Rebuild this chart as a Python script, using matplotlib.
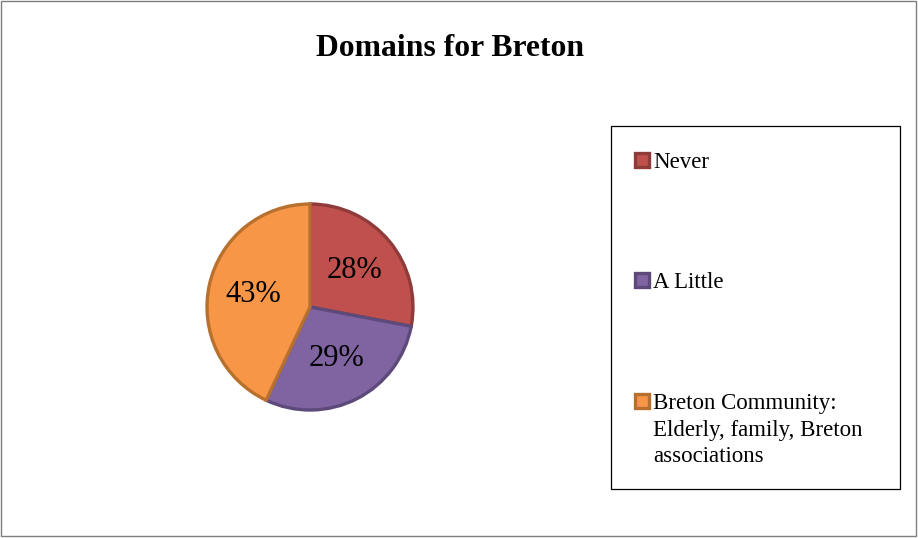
import matplotlib
matplotlib.use("Agg")
import matplotlib.pyplot as plt
from matplotlib.patches import Rectangle

labels = ["Never", "A Little", "Breton Community:\nElderly, family, Breton\nassociations"]
shares = [28, 29, 43]
fills = ["#C0504D", "#8064A2", "#F79646"]
edges = ["#8E3B39", "#5D4A7A", "#B8702F"]
title = "Domains for Breton"

W, H = 918, 538
plt.rcParams["font.family"] = ["Liberation Serif", "DejaVu Serif"]

fig = plt.figure(figsize=(W / 100, H / 100), dpi=100)


def fx(x):
    return x / W


def fy(y):
    # pixel rows are counted from the top
    return 1 - y / H


# outer chart border
fig.add_artist(Rectangle((fx(1), fy(536)), fx(915), 535 / H, transform=fig.transFigure,
                         fill=False, edgecolor="#7f7f7f", lw=1))

fig.text(fx(450), fy(48), title, ha="center", va="center", fontsize=22.8, fontweight="bold")

# pie
cx, cy, r = 310, 307, 103
ax = fig.add_axes([fx(cx - r), fy(cy + r), 2 * r / W, 2 * r / H])
wedges, texts, autotexts = ax.pie(
    shares, colors=fills, startangle=90, counterclock=False,
    autopct="%d%%", pctdistance=0.56,
    wedgeprops=dict(linewidth=2.4),
    textprops=dict(fontsize=22, color="black"),
)
for w, ec in zip(wedges, edges):
    w.set_edgecolor(ec)
    w.set_joinstyle("miter")
ax.set_xlim(-1, 1)
ax.set_ylim(-1, 1)
ax.set_aspect("equal")
ax.axis("off")

# legend box
lx0, ly0, lx1, ly1 = 611, 126, 900, 489
fig.add_artist(Rectangle((fx(lx0), fy(ly1)), fx(lx1 - lx0), (ly1 - ly0) / H,
                         transform=fig.transFigure, fill=False, edgecolor="black", lw=0.9))

baselines = [168, 288, 409]
line_px = 26.5
for lab, fc, ec, yb in zip(labels, fills, edges, baselines):
    sq = Rectangle((fx(635), fy(yb - 1)), fx(14), 14 / H, transform=fig.transFigure,
                   facecolor=fc, edgecolor=ec, lw=2.4)
    fig.add_artist(sq)
    # baseline alignment follows the last line, so push multi-line labels down
    nlines = lab.count("\n")
    fig.text(fx(653), fy(yb + nlines * line_px), lab, ha="left", va="baseline",
             fontsize=16.5, linespacing=1.33)

fig.savefig("out.png", dpi=100, facecolor="white")
